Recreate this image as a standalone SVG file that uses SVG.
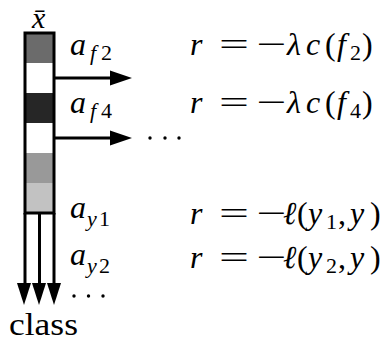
<svg xmlns="http://www.w3.org/2000/svg" width="385" height="347" viewBox="0 0 385 347">
<rect width="385" height="347" fill="#fff"/>
<g id="column">
<rect x="25" y="33" width="29" height="30" fill="#6b6b6b"/>
<rect x="25" y="63" width="29" height="30" fill="#ffffff"/>
<rect x="25" y="93" width="29" height="30" fill="#262626"/>
<rect x="25" y="123" width="29" height="30" fill="#ffffff"/>
<rect x="25" y="153" width="29" height="30" fill="#999999"/>
<rect x="25" y="183" width="29" height="30" fill="#c2c2c2"/>
<rect x="25" y="33" width="29" height="180" fill="none" stroke="#000" stroke-width="3"/>
</g>
<g id="connectors">
<g stroke="#000" stroke-width="3" fill="none">
<line x1="54" y1="78" x2="112" y2="78"/>
<line x1="54" y1="138" x2="112" y2="138"/>
<line x1="25" y1="213" x2="25" y2="286"/>
<line x1="39.5" y1="213" x2="39.5" y2="286"/>
<line x1="54" y1="213" x2="54" y2="286"/>
</g>
<g fill="#000">
<polygon points="110,70.5 132,78 110,85.5"/>
<polygon points="110,130.5 132,138 110,145.5"/>
<polygon points="17,283 31,283 24,305"/>
<polygon points="32,283 46,283 39,305"/>
<polygon points="47,283 61,283 54,305"/>
<circle cx="150" cy="138" r="1.7"/>
<circle cx="165" cy="138" r="1.7"/>
<circle cx="179" cy="138" r="1.7"/>
<circle cx="74" cy="296" r="1.7"/>
<circle cx="88.5" cy="296" r="1.7"/>
<circle cx="103" cy="296" r="1.7"/>
</g>
</g>
<g id="xbar"><text x="32" y="28" font-family="Liberation Serif, Times New Roman, serif" font-size="30" font-style="italic">x̄</text></g>
<g id="label-af2"><text y="55" font-family="Liberation Serif, Times New Roman, serif" font-size="32"><tspan font-style="italic" x="70">a</tspan><tspan font-size="22" font-style="italic" x="90" y="60">f</tspan><tspan font-size="22" x="101" y="60">2</tspan></text></g>
<g id="label-af4"><text y="113" font-family="Liberation Serif, Times New Roman, serif" font-size="32"><tspan font-style="italic" x="70">a</tspan><tspan font-size="22" font-style="italic" x="90" y="118">f</tspan><tspan font-size="22" x="101" y="118">4</tspan></text></g>
<g id="label-ay1"><text y="218" font-family="Liberation Serif, Times New Roman, serif" font-size="32"><tspan font-style="italic" x="70">a</tspan><tspan font-size="22" font-style="italic" x="87" y="226">y</tspan><tspan font-size="22" x="99" y="226">1</tspan></text></g>
<g id="label-ay2"><text y="265" font-family="Liberation Serif, Times New Roman, serif" font-size="32"><tspan font-style="italic" x="70">a</tspan><tspan font-size="22" font-style="italic" x="87" y="273">y</tspan><tspan font-size="22" x="99" y="273">2</tspan></text></g>
<g id="eq1"><text y="55" font-family="Liberation Serif, Times New Roman, serif" font-size="32"><tspan font-style="italic" x="190">r</tspan><tspan x="219" textLength="30" lengthAdjust="spacingAndGlyphs">=</tspan><tspan x="256" textLength="30" lengthAdjust="spacingAndGlyphs">−</tspan><tspan font-style="italic" x="287">λ</tspan><tspan font-style="italic" x="306">c</tspan><tspan x="325">(</tspan><tspan font-style="italic" x="337">f</tspan><tspan font-size="22" x="350" y="60">2</tspan><tspan x="362" y="55">)</tspan></text></g>
<g id="eq2"><text y="113" font-family="Liberation Serif, Times New Roman, serif" font-size="32"><tspan font-style="italic" x="190">r</tspan><tspan x="219" textLength="30" lengthAdjust="spacingAndGlyphs">=</tspan><tspan x="256" textLength="30" lengthAdjust="spacingAndGlyphs">−</tspan><tspan font-style="italic" x="287">λ</tspan><tspan font-style="italic" x="306">c</tspan><tspan x="325">(</tspan><tspan font-style="italic" x="337">f</tspan><tspan font-size="22" x="350" y="118">4</tspan><tspan x="362" y="113">)</tspan></text></g>
<g id="eq3"><text y="224" font-family="Liberation Serif, Times New Roman, serif" font-size="32"><tspan font-style="italic" x="190">r</tspan><tspan x="219" textLength="30" lengthAdjust="spacingAndGlyphs">=</tspan><tspan x="256" textLength="30" lengthAdjust="spacingAndGlyphs">−</tspan><tspan font-style="italic" x="283">ℓ</tspan><tspan x="297">(</tspan><tspan font-style="italic" x="308">y</tspan><tspan font-size="22" x="326" y="229">1</tspan><tspan x="338" y="224">,</tspan><tspan font-style="italic" x="350">y</tspan><tspan x="370">)</tspan></text></g>
<g id="eq4"><text y="268" font-family="Liberation Serif, Times New Roman, serif" font-size="32"><tspan font-style="italic" x="190">r</tspan><tspan x="219" textLength="30" lengthAdjust="spacingAndGlyphs">=</tspan><tspan x="256" textLength="30" lengthAdjust="spacingAndGlyphs">−</tspan><tspan font-style="italic" x="283">ℓ</tspan><tspan x="297">(</tspan><tspan font-style="italic" x="308">y</tspan><tspan font-size="22" x="326" y="273">2</tspan><tspan x="338" y="268">,</tspan><tspan font-style="italic" x="350">y</tspan><tspan x="370">)</tspan></text></g>
<g id="class-label"><text x="9" y="335" font-family="Liberation Serif, Times New Roman, serif" font-size="31" textLength="69" lengthAdjust="spacingAndGlyphs">class</text></g>
</svg>
